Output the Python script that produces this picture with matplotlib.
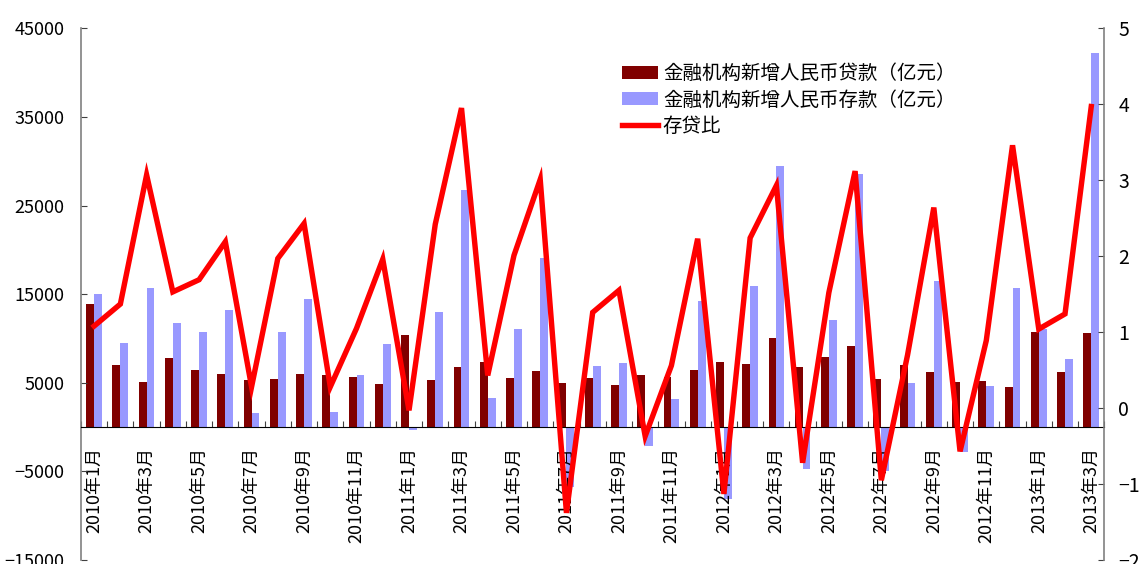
import matplotlib
matplotlib.use('Agg')  # no display
import matplotlib.pyplot as plt
import numpy as np

plt.rcParams['font.family'] = ['Noto Sans CJK JP', 'DejaVu Sans']

# monthly data, 2010-01 .. 2013-03 (亿元)
loans = [13900, 7000, 5107, 7740, 6394, 6034, 5328, 5452, 5955, 5877, 5640, 4807,
         10400, 5356, 6794, 7396, 5516, 6339, 4925, 5485, 4700, 5868, 5622, 6405,
         7381, 7107, 10100, 6818, 7932, 9198, 5401, 7039, 6232, 5052, 5229, 4543,
         10700, 6200, 10600]
deposits = [15000, 9480, 15700, 11760, 10730, 13220, 1590, 10730, 14480, 1670, 5850, 9350,
            -320, 12980, 26790, 3260, 11060, 19110, -6740, 6880, 7240, -2150, 3170, 14230,
            -8170, 15940, 29480, -4710, 12070, 28590, -5000, 4930, 16500, -2790, 4630, 15700,
            11040, 7680, 42160]
ratio = [1.08, 1.37, 3.07, 1.53, 1.69, 2.19, 0.28, 1.97, 2.43, 0.28, 1.05, 1.96,
         -0.03, 2.42, 3.95, 0.43, 2.01, 3.01, -1.38, 1.26, 1.55, -0.37, 0.56, 2.23,
         -1.13, 2.24, 2.93, -0.72, 1.52, 3.12, -0.95, 0.70, 2.64, -0.57, 0.89, 3.46,
         1.04, 1.24, 3.97]
tick_labels = ['2010年1月', '2010年3月', '2010年5月', '2010年7月', '2010年9月', '2010年11月',
               '2011年1月', '2011年3月', '2011年5月', '2011年7月', '2011年9月', '2011年11月',
               '2012年1月', '2012年3月', '2012年5月', '2012年7月', '2012年9月', '2012年11月',
               '2013年1月', '2013年3月']

x = np.arange(len(loans))

fig = plt.figure(figsize=(11.41, 5.64), dpi=100)
ax = fig.add_axes([0.0710, 0.0071, 0.8969, 0.9427])

b1 = ax.bar(x - 0.15, loans, width=0.3, color='#800000', label='金融机构新增人民币贷款（亿元）')
b2 = ax.bar(x + 0.15, deposits, width=0.3, color='#9999FF', label='金融机构新增人民币存款（亿元）')
ax.set_xlim(-0.5, len(loans) - 0.5)
ax.set_ylim(-15000, 45000)
ax.set_yticks(np.arange(-15000, 45001, 10000))

# x axis sits on zero, ticks between months, labels every other month
ax.spines['bottom'].set_position(('data', 0))
ax.spines['bottom'].set_color('black')
ax.spines['top'].set_visible(False)
ax.spines['right'].set_visible(False)
ax.spines['left'].set_color('#808080')
ax.spines['left'].set_linewidth(1.2)
ax.set_xticks(np.arange(-0.5, len(loans), 1))
ax.set_xticklabels([])
ax.set_xticks(x[::2], minor=True)
ax.set_xticklabels(tick_labels, minor=True, rotation=90, fontsize=13)
ax.tick_params(axis='x', which='major', direction='in', length=4, color='#404040')
ax.tick_params(axis='x', which='minor', length=0, pad=14)
ax.tick_params(axis='y', direction='in', length=4, color='#404040', labelsize=13, pad=12)

ax2 = ax.twinx()
ln, = ax2.plot(x, ratio, color='#FF0000', lw=3.9, solid_joinstyle='miter', label='存贷比')
ax2.set_ylim(-2, 5)
ax2.set_yticks(np.arange(-2, 6, 1))
for s in ['top', 'left', 'bottom']:
    ax2.spines[s].set_visible(False)
ax2.spines['right'].set_color('#808080')
ax2.spines['right'].set_linewidth(1.2)
ax2.tick_params(axis='y', direction='in', length=4, color='#404040', labelsize=14, pad=10)

ax2.legend(handles=[b1, b2, ln], loc='upper left', bbox_to_anchor=(622 / 1141, 1 - 63 / 564),
           bbox_transform=fig.transFigure, frameon=False, fontsize=14, borderpad=0,
           borderaxespad=0, handlelength=1.85, handleheight=0.65, handletextpad=0.25,
           labelspacing=0.28)

fig.savefig('out.png', dpi=100)
